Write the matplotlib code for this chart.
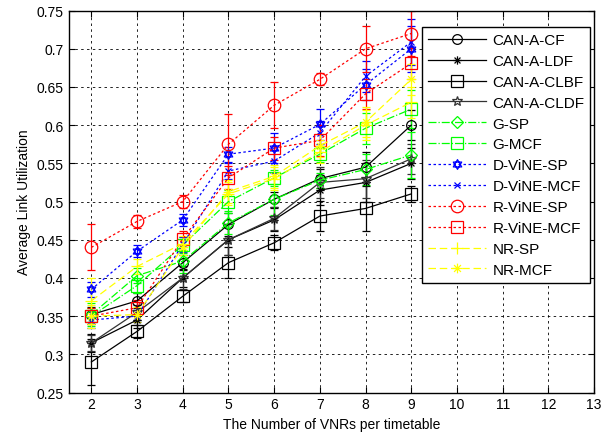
import matplotlib
matplotlib.use("Agg")
import matplotlib.pyplot as plt
from matplotlib.path import Path
import numpy as np

plt.rcParams['font.family'] = ['Liberation Sans', 'DejaVu Sans']

x = [2, 3, 4, 5, 6, 7, 8, 9]

can_cf = [0.352, 0.370, 0.420, 0.470, 0.503, 0.530, 0.545, 0.600]
can_ldf = [0.315, 0.345, 0.400, 0.450, 0.476, 0.515, 0.525, 0.550]
can_clbf = [0.290, 0.330, 0.376, 0.420, 0.446, 0.481, 0.491, 0.510]
can_cldf = [0.315, 0.355, 0.400, 0.450, 0.478, 0.525, 0.530, 0.556]
g_sp = [0.352, 0.403, 0.422, 0.472, 0.503, 0.528, 0.542, 0.561]
g_mcf = [0.350, 0.390, 0.443, 0.500, 0.531, 0.562, 0.596, 0.621]
d_sp = [0.385, 0.435, 0.476, 0.562, 0.570, 0.601, 0.653, 0.700]
d_mcf = [0.345, 0.350, 0.444, 0.540, 0.553, 0.590, 0.664, 0.709]
r_sp = [0.440, 0.474, 0.500, 0.575, 0.626, 0.660, 0.700, 0.720]
r_mcf = [0.350, 0.361, 0.451, 0.531, 0.570, 0.580, 0.641, 0.681]
nr_sp = [0.370, 0.415, 0.445, 0.510, 0.530, 0.565, 0.600, 0.630]
nr_mcf = [0.350, 0.352, 0.440, 0.513, 0.533, 0.573, 0.604, 0.660]

err_can_cf = [0.010, 0.010, 0.010, 0.015, 0.010, 0.012, 0.020, 0.020]
err_can_ldf = [0.012, 0.010, 0.012, 0.020, 0.015, 0.020, 0.025, 0.020]
err_can_clbf = [0.030, 0.008, 0.008, 0.020, 0.010, 0.020, 0.030, 0.010]
err_can_cldf = [0.010, 0.010, 0.015, 0.020, 0.015, 0.020, 0.025, 0.020]
err_g_sp = [0.015, 0.010, 0.015, 0.015, 0.020, 0.010, 0.020, 0.030]
err_g_mcf = [0.010, 0.010, 0.010, 0.015, 0.010, 0.010, 0.020, 0.025]
err_d_sp = [0.010, 0.008, 0.008, 0.010, 0.020, 0.020, 0.020, 0.030]
err_d_mcf = [0.010, 0.008, 0.010, 0.010, 0.015, 0.015, 0.020, 0.030]
err_r_sp = [0.030, 0.008, 0.008, 0.040, 0.030, 0.008, 0.030, 0.030]
err_r_mcf = [0.010, 0.010, 0.010, 0.015, 0.015, 0.020, 0.020, 0.020]
err_nr_sp = [0.030, 0.010, 0.010, 0.015, 0.015, 0.015, 0.020, 0.020]
err_nr_mcf = [0.015, 0.010, 0.010, 0.015, 0.015, 0.015, 0.020, 0.020]

xticks = list(range(2, 14))
yticks = [0.25, 0.3, 0.35, 0.4, 0.45, 0.5, 0.55, 0.6, 0.65, 0.7, 0.75]
ytick_labels = ['0.25', '0.3', '0.35', '0.4', '0.45', '0.5', '0.55', '0.6', '0.65', '0.7', '0.75']

# Matlab-like asterisk marker (8 arms)
ast_verts, ast_codes = [], []
for ang in [0, 45, 90, 135]:
    a = np.deg2rad(ang)
    ast_verts += [(np.cos(a), np.sin(a)), (-np.cos(a), -np.sin(a))]
    ast_codes += [Path.MOVETO, Path.LINETO]
ASTERISK = Path(ast_verts, ast_codes)

# Matlab-like hexagram marker
hex_verts, hex_codes = [], []
for start in [90, 270]:
    pts = [(np.cos(np.deg2rad(start + k * 120)), np.sin(np.deg2rad(start + k * 120))) for k in range(3)]
    hex_verts += pts + [pts[0]]
    hex_codes += [Path.MOVETO, Path.LINETO, Path.LINETO, Path.CLOSEPOLY]
HEXAGRAM = Path(hex_verts, hex_codes)

fig = plt.figure(figsize=(6.02, 4.39), dpi=100)
ax = fig.add_axes([0.1138, 0.1036, 0.873, 0.870])

dots = (0, (2, 2))
series = [
    ("CAN-A-CF", can_cf, err_can_cf, 'k', '-', 'o', 7),
    ("CAN-A-LDF", can_ldf, err_can_ldf, 'k', '-', ASTERISK, 6),
    ("CAN-A-CLBF", can_clbf, err_can_clbf, 'k', '-', 's', 8),
    ("CAN-A-CLDF", can_cldf, err_can_cldf, '#333333', '-', '*', 7),
    ("G-SP", g_sp, err_g_sp, '#00ff00', '-.', 'D', 6),
    ("G-MCF", g_mcf, err_g_mcf, '#00ff00', '-.', 's', 8),
    ("D-ViNE-SP", d_sp, err_d_sp, '#0000ff', dots, HEXAGRAM, 7),
    ("D-ViNE-MCF", d_mcf, err_d_mcf, '#0000ff', dots, 'x', 5),
    ("R-ViNE-SP", r_sp, err_r_sp, '#ff0000', dots, 'o', 9),
    ("R-ViNE-MCF", r_mcf, err_r_mcf, '#ff0000', dots, 's', 9),
    ("NR-SP", nr_sp, err_nr_sp, '#ffff00', (0, (6, 3)), '+', 9),
    ("NR-MCF", nr_mcf, err_nr_mcf, '#ffff00', (0, (6, 3)), ASTERISK, 7),
]

handles = []
for name, vals, err, col, ls, mk, ms in series:
    c = ax.errorbar(x, vals, yerr=err, color=col, ecolor=col, elinewidth=0.9,
                    capsize=3, capthick=0.9, linestyle=ls, linewidth=0.9,
                    marker=mk, markersize=ms, markerfacecolor='none',
                    markeredgecolor=col, markeredgewidth=0.9, label=name)
    handles.append(c.lines[0])

ax.set_xlim(1.5, 13)
ax.set_ylim(0.25, 0.75)
ax.set_xticks(xticks)
ax.set_yticks(yticks)
ax.set_yticklabels(ytick_labels)
ax.tick_params(direction='in', top=True, right=True, labelsize=10, length=4)
ax.grid(True, color='k', linestyle=(0, (3, 4)), linewidth=0.6)
for s in ax.spines.values():
    s.set_linewidth(1.0)

ax.set_xlabel("The Number of VNRs per timetable", fontsize=10)
ax.set_ylabel("Average Link Utilization", fontsize=10)

leg = ax.legend(handles, [s[0] for s in series], loc='upper right',
                bbox_to_anchor=(0.993, 0.957), borderaxespad=0,
                fontsize=11, handlelength=3.8, labelspacing=0.45, fancybox=False,
                framealpha=1, edgecolor='k', handletextpad=0.4)
leg.get_frame().set_linewidth(1.0)

fig.savefig("out.png", dpi=100)
